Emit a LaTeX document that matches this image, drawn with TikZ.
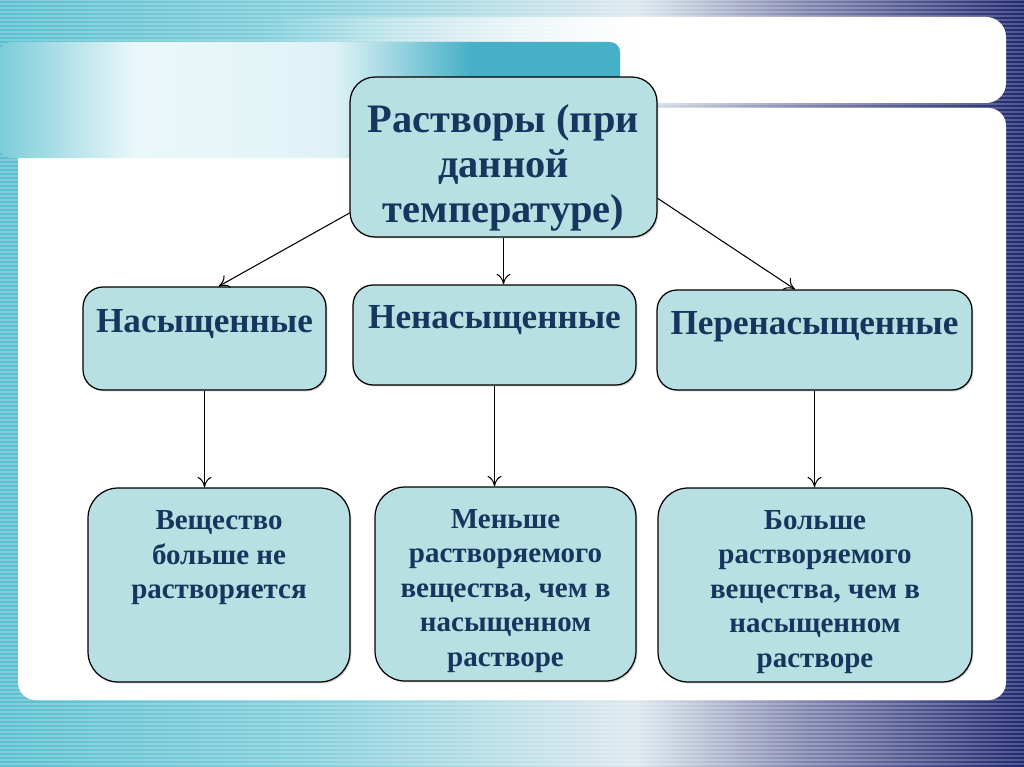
\documentclass[tikz,border=0pt]{standalone}
\usepackage{fontspec}
\setmainfont{Liberation Serif}
\usetikzlibrary{positioning,fadings,shadows,arrows.meta}
\definecolor{boxfill}{RGB}{184,223,226}
\definecolor{txtblue}{RGB}{22,54,94}
\definecolor{bgteal}{RGB}{92,192,208}
\definecolor{bgnavy}{RGB}{32,40,112}
\definecolor{bglight}{RGB}{222,232,238}
\definecolor{bandteal}{RGB}{70,176,200}
\pgfdeclarehorizontalshading{slideshade}{100bp}{color(0bp)=(bgteal); color(25bp)=(bgteal);
  color(40bp)=(bgteal!75!white); color(56bp)=(bglight); color(64bp)=(bgnavy!55!white);
  color(75bp)=(bgnavy); color(100bp)=(bgnavy)}
\pgfdeclarehorizontalshading{bandshade}{100bp}{color(0bp)=(bgteal!80!white); color(25bp)=(bgteal!80!white);
  color(36bp)=(white!88!bgteal); color(52bp)=(white!80!bgteal); color(63bp)=(bandteal);
  color(75bp)=(bandteal); color(100bp)=(bandteal)}

\begin{document}
\begin{tikzpicture}[x=0.02cm,y=-0.02cm,
  box/.style={draw,fill=boxfill,line width=0.7pt,rounded corners=#1,
    drop shadow={shadow xshift=0.8pt,shadow yshift=-0.8pt,opacity=0.35}},
  box/.default=0.4cm,
  txt/.style={text=txtblue,align=center,font=\bfseries\fontsize{20}{24}\selectfont},
  small/.style={font=\bfseries\fontsize{16.5}{19.6}\selectfont},
  link/.style={-{To[length=6pt,width=8pt]},line width=0.6pt}]

\useasboundingbox (0,0) rectangle (1024,767);

% slide background
\shade[shading=slideshade] (0,0) rectangle (1024,767);
\foreach \yy in {0,4,...,764}
  \draw[white,opacity=0.22,line width=0.8pt] (0,\yy) -- (1024,\yy);
\fill[white] (640,17) [rounded corners=0.4cm] -- (1006,17) -- (1006,103)
  [sharp corners] -- (640,103) -- cycle;
\fill[white,path fading=west] (260,17) rectangle (642,103);
\fill[white,rounded corners=0.35cm] (18,108) rectangle (1006,700);
\shade[shading=bandshade,rounded corners=0.2cm] (0,42) rectangle (620,158);

% top
\node[box=0.5cm,minimum width=6.14cm,minimum height=3.2cm] (top) at (503.5,157) {};
\node[txt,font=\bfseries\fontsize{23}{25.5}\selectfont] (toptxt) at (503.5,168)
  {Растворы (при\\данной\\температуре)};

% second row
\node[box,minimum width=4.86cm,minimum height=2.06cm] (nas) at (204.5,338.5) {};
\node[txt] (nastxt) at (204.5,324) {Насыщенные};
\node[box,minimum width=5.66cm,minimum height=2cm] (nenas) at (494.5,335) {};
\node[txt] (nenastxt) at (494.5,320) {Ненасыщенные};
\node[box,minimum width=6.3cm,minimum height=2cm] (pere) at (814.5,340) {};
\node[txt] (peretxt) at (814.5,327) {Перенасыщенные};

% bottom row
\node[box=0.6cm,minimum width=5.24cm,minimum height=3.88cm] (b1) at (219,585) {};
\node[txt,small] (b1txt) at (219,558) {Вещество\\больше не\\растворяется};
\node[box=0.6cm,minimum width=5.22cm,minimum height=3.88cm] (b2) at (505.5,584) {};
\node[txt,small] (b2txt) at (505.5,591)
  {Меньше\\растворяемого\\вещества, чем в\\насыщенном\\растворе};
\node[box=0.6cm,minimum width=6.28cm,minimum height=3.88cm] (b3) at (815,585) {};
\node[txt,small] (b3txt) at (815,592)
  {Больше\\растворяемого\\вещества, чем в\\насыщенном\\растворе};

% links
\draw[link] (top.200) -- (nas.75);
\draw[link] (top.south) -- (top.south |- nenas.north);
\draw[link] (top.-15) -- (pere.111);
\draw[link] (nas.south) -- (nas.south |- b1.north);
\draw[link] (nenas.south) -- (nenas.south |- b2.north);
\draw[link] (pere.south) -- (pere.south |- b3.north);

\end{tikzpicture}
\end{document}
